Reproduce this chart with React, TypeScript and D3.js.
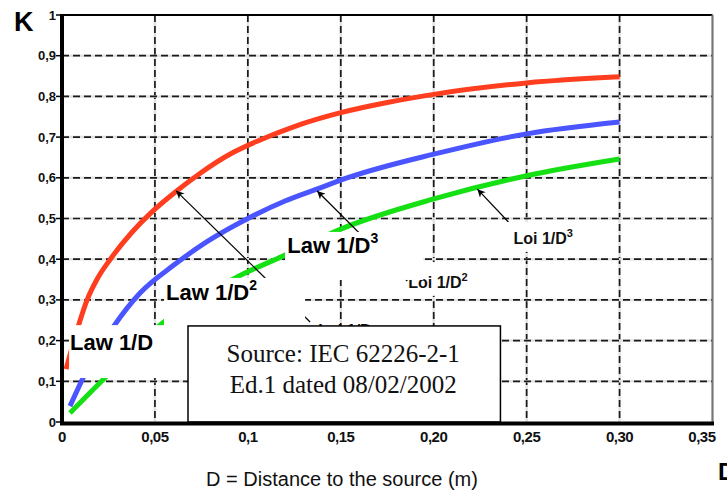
import React from 'react';
import * as d3 from 'd3';

// ---- Data ----
const xTickValues = [0, 0.05, 0.1, 0.15, 0.2, 0.25, 0.3, 0.35];
const xTickLabels = ['0', '0,05', '0,1', '0,15', '0,20', '0,25', '0,30', '0,35'];
const yTickValues = [0, 0.1, 0.2, 0.3, 0.4, 0.5, 0.6, 0.7, 0.8, 0.9, 1];
const yTickLabels = ['0', '0,1', '0,2', '0,3', '0,4', '0,5', '0,6', '0,7', '0,8', '0,9', '1'];

// Law 1/D (red)
const distLaw1 = [0.0022, 0.0086, 0.0135, 0.019, 0.026, 0.038, 0.0474, 0.061, 0.074, 0.092, 0.105, 0.125, 0.15, 0.175, 0.2, 0.25, 0.3];
const kLaw1 = [0.13, 0.233, 0.3, 0.352, 0.4, 0.468, 0.512, 0.565, 0.61, 0.662, 0.69, 0.726, 0.76, 0.785, 0.805, 0.833, 0.848];
// Law 1/D² (blue)
const distLaw2 = [0.0043, 0.0113, 0.0275, 0.042, 0.06, 0.078, 0.1, 0.12, 0.137, 0.155, 0.2, 0.25, 0.3];
const kLaw2 = [0.039, 0.108, 0.233, 0.317, 0.385, 0.443, 0.5, 0.543, 0.572, 0.602, 0.658, 0.708, 0.737];
// Law 1/D³ (green)
const distLaw3 = [0.0043, 0.023, 0.054, 0.094, 0.12, 0.15, 0.2, 0.25, 0.3];
const kLaw3 = [0.022, 0.108, 0.243, 0.356, 0.41, 0.474, 0.548, 0.605, 0.646];

const seriesNames = ['Law 1/D', 'Law 1/D2', 'Law 1/D3'];

export default function App() {
  const x = d3.scaleLinear().domain([0, 0.35]).range([62, 712.5]);
  const y = d3.scaleLinear().domain([0, 1]).range([422, 15]);

  const line = d3
    .line<[number, number]>()
    .x((d) => x(d[0]))
    .y((d) => y(d[1]))
    .curve(d3.curveMonotoneX);

  const series = [
    { name: seriesNames[0], xs: distLaw1, ks: kLaw1, color: '#ff3d1f' },
    { name: seriesNames[1], xs: distLaw2, ks: kLaw2, color: '#4a55ff' },
    { name: seriesNames[2], xs: distLaw3, ks: kLaw3, color: '#14e014' },
  ];

  // white label patches (in data units)
  const patch = (x0: number, x1: number, k0: number, k1: number) => ({
    x: x(x0),
    y: y(k1),
    w: x(x1) - x(x0),
    h: y(k0) - y(k1),
  });
  const patchD = patch(0.1874, 0.2208, 0.31, 0.393);
  const patchE = patch(0.2385, 0.2843, 0.418, 0.491);
  const patchC = patch(0.12, 0.1944, 0.349, 0.467);
  const patchB = patch(0.0549, 0.1308, 0.236, 0.354);
  const patchA = patch(0.0038, 0.0678, 0.108, 0.238);
  const srcBox = patch(0.0678, 0.2359, 0, 0.236);

  const arrows = [
    { from: [0.1335, 0.2457], to: [0.0614, 0.568] },
    { from: [0.1858, 0.3464], to: [0.1373, 0.5676] },
    { from: [0.2402, 0.4914], to: [0.2235, 0.572] },
  ];

  const sans = '"Liberation Sans", Arial, Helvetica, sans-serif';
  const serif = '"Liberation Serif", "Times New Roman", serif';

  const gridX = xTickValues.filter((v) => v > 0 && v < 0.35);
  const gridY = yTickValues.filter((v) => v > 0 && v < 1);

  return (
    <svg
      width={727}
      height={490}
      style={{ position: 'absolute', left: 0, top: 0, background: '#fff' }}
    >
      <defs>
        <marker
          id="ah"
          viewBox="0 0 10 10"
          refX={10}
          refY={5}
          markerWidth={11}
          markerHeight={8}
          markerUnits="userSpaceOnUse"
          orient="auto"
        >
          <path d="M0,0 L10,5 L0,10 L3,5 z" fill="#000" />
        </marker>
      </defs>
      <rect x={0} y={0} width={727} height={490} fill="#fff" />

      {/* grid */}
      {gridX.map((v) => (
        <g key={'gx' + v}>
          <line x1={x(v)} x2={x(v)} y1={y(1)} y2={y(0)} stroke="#e2e2e2" strokeWidth={2.5} />
          <line x1={x(v)} x2={x(v)} y1={y(1)} y2={y(0)} stroke="#1a1a1a" strokeWidth={1.7} strokeDasharray="7 4" />
        </g>
      ))}
      {gridY.map((v) => (
        <g key={'gy' + v}>
          <line x1={x(0)} x2={x(0.35)} y1={y(v)} y2={y(v)} stroke="#e2e2e2" strokeWidth={2.5} />
          <line x1={x(0)} x2={x(0.35)} y1={y(v)} y2={y(v)} stroke="#1a1a1a" strokeWidth={1.7} strokeDasharray="7 4" />
        </g>
      ))}

      {/* curves */}
      {series.map((s) => (
        <path
          key={s.name}
          d={line(s.xs.map((d, i) => [d, s.ks[i]] as [number, number])) || ''}
          fill="none"
          stroke={s.color}
          strokeWidth={5}
        />
      ))}

      {/* arrows */}
      {arrows.map((a, i) => (
        <line
          key={'ar' + i}
          x1={x(a.from[0])}
          y1={y(a.from[1])}
          x2={x(a.to[0])}
          y2={y(a.to[1])}
          stroke="#000"
          strokeWidth={1.2}
          markerEnd="url(#ah)"
        />
      ))}

      {/* French labels with white backgrounds */}
      <rect x={patchD.x} y={patchD.y} width={patchD.w} height={patchD.h} fill="#fff" />
      <rect x={patchE.x} y={patchE.y} width={patchE.w} height={patchE.h} fill="#fff" />
      <text x={x(0.2429)} y={y(0.437)} fontFamily={sans} fontWeight="bold" fontSize={16} fill="#111">
        Loi 1/D<tspan fontSize={11} dy={-7}>3</tspan>
      </text>
      <text x={x(0.1863)} y={y(0.329)} fontFamily={sans} fontWeight="bold" fontSize={16} fill="#111">
        Loi 1/D<tspan fontSize={11} dy={-7}>2</tspan>
      </text>
      <text x={x(0.1379)} y={y(0.212)} fontFamily={sans} fontWeight="bold" fontSize={16} fill="#111">
        Loi 1/D
      </text>

      {/* English label patches */}
      <rect x={patchC.x} y={patchC.y} width={patchC.w} height={patchC.h} fill="#fff" />
      <rect x={patchB.x} y={patchB.y} width={patchB.w} height={patchB.h} fill="#fff" />
      <rect x={patchA.x} y={patchA.y} width={patchA.w} height={patchA.h} fill="#fff" />

      <text x={x(0.0043)} y={y(0.177)} fontFamily={sans} fontWeight="bold" fontSize={22} fill="#000">
        Law 1/D
      </text>
      <text x={x(0.056)} y={y(0.3)} fontFamily={sans} fontWeight="bold" fontSize={22} fill="#000">
        Law 1/D<tspan fontSize={14} dy={-10}>2</tspan>
      </text>
      <text x={x(0.1212)} y={y(0.415)} fontFamily={sans} fontWeight="bold" fontSize={22} fill="#000">
        Law 1/D<tspan fontSize={14} dy={-10}>3</tspan>
      </text>

      {/* source box */}
      <rect x={srcBox.x} y={srcBox.y} width={srcBox.w} height={srcBox.h} fill="#fff" stroke="#000" strokeWidth={1.5} />
      <text x={x(0.1513)} y={362} textAnchor="middle" fontFamily={serif} fontSize={25} fill="#111">
        Source: IEC 62226-2-1
      </text>
      <text x={x(0.1513)} y={393} textAnchor="middle" fontFamily={serif} fontSize={25} fill="#111">
        Ed.1 dated 08/02/2002
      </text>

      {/* frame / axes */}
      <line x1={x(0)} x2={x(0.35)} y1={y(1)} y2={y(1)} stroke="#000" strokeWidth={2.2} />
      <line x1={x(0.35)} x2={x(0.35)} y1={y(1)} y2={y(0)} stroke="#777" strokeWidth={2.2} />
      <line x1={x(0)} x2={x(0)} y1={y(1) - 1} y2={y(0) + 2} stroke="#000" strokeWidth={4} />
      <line x1={x(0) - 2} x2={x(0.35) + 1.5} y1={y(0) + 1.5} y2={y(0) + 1.5} stroke="#000" strokeWidth={4} />

      {/* y ticks */}
      {yTickValues.map((v, i) => (
        <g key={'yt' + v}>
          <line x1={x(0) - 6} x2={x(0)} y1={y(v)} y2={y(v)} stroke="#000" strokeWidth={1.5} />
          <text
            x={x(0) - 6}
            y={y(v) + 4.5}
            textAnchor="end"
            fontFamily={sans}
            fontWeight="bold"
            fontSize={13}
            fill="#111"
          >
            {yTickLabels[i]}
          </text>
        </g>
      ))}

      {/* x ticks */}
      {xTickValues.map((v, i) => (
        <text
          key={'xt' + v}
          x={i === xTickValues.length - 1 ? x(v) + 3 : x(v)}
          y={442}
          textAnchor={i === xTickValues.length - 1 ? 'end' : 'middle'}
          fontFamily={sans}
          fontWeight="bold"
          fontSize={15}
          letterSpacing={-0.5}
          fill="#111"
        >
          {xTickLabels[i]}
        </text>
      ))}

      {/* axis titles */}
      <text x={14} y={31} fontFamily={sans} fontWeight="bold" fontSize={27} fill="#000">
        K
      </text>
      <text x={718} y={480} fontFamily={sans} fontWeight="bold" fontSize={24} fill="#000">
        D
      </text>
      <text x={342} y={486} textAnchor="middle" fontFamily={sans} fontSize={20} fill="#111">
        D = Distance to the source (m)
      </text>
    </svg>
  );
}
